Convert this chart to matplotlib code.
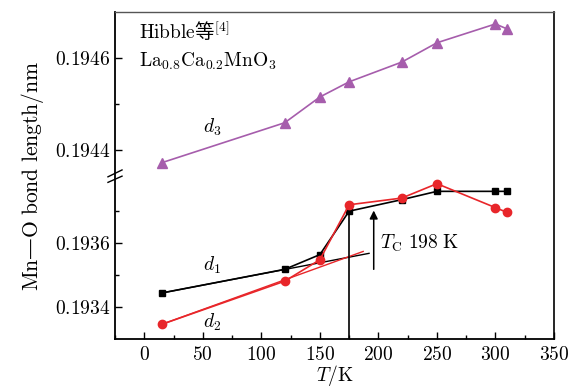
import numpy as np
import matplotlib
matplotlib.use("Agg")
import matplotlib.pyplot as plt
from matplotlib.ticker import FixedLocator, FixedFormatter, MultipleLocator

plt.rcParams['mathtext.fontset'] = 'cm'
plt.rcParams['font.family'] = ['DejaVu Serif']

# ---- data ----
T = [15, 120, 150, 175, 220, 250, 300, 310]
d1 = [0.193444, 0.193518, 0.193564, 0.193700, 0.193736, 0.193762, 0.193762, 0.193762]
d2 = [0.193346, 0.193481, 0.193548, 0.193720, 0.193741, 0.193786, 0.193711, 0.193696]
d3 = [0.194372, 0.194459, 0.194515, 0.194548, 0.194591, 0.194633, 0.194674, 0.194663]
fit1_x = [15, 192]
fit1_y = [0.193444, 0.193568]
fit2_x = [15, 187]
fit2_y = [0.193346, 0.193574]
Tc_line_x = 175
Tc_arrow_x = 196
Tc_arrow_y = [0.193518, 0.193702]
x_ticks = [0, 50, 100, 150, 200, 250, 300, 350]
y_major = [0.1934, 0.1936, 0.1944, 0.1946]
y_minor = [0.1935, 0.1937, 0.1945]
y_labels = ['0.1934', '0.1936', '0.1944', '0.1946']

# ---- broken-axis scale ----
lo0, lo1 = 0.1933, 0.19382
hi0, hi1 = 0.19435, 0.1947
s_lo = 64 / 0.0002
s_hi = 92 / 0.0002
xk = np.array([0.18, lo1, hi0, 0.21])
fa = (lo1 - lo0) * s_lo
fk = np.array([(0.18 - lo0) * s_lo, fa, fa + 0.01, fa + 0.01 + (0.21 - hi0) * s_hi])

def fwd(y):
    return np.interp(y, xk, fk)

def inv(f):
    return np.interp(f, fk, xk)

fig = plt.figure(figsize=(5.84, 3.88), dpi=100)
ax = fig.add_axes([115/584, 49/388, 439/584, 327/388])
ax.set_yscale('function', functions=(fwd, inv))
ax.set_xlim(-25, 350)
ax.set_ylim(lo0, hi1)

purple = '#A65DAC'
red = '#E8262A'

ax.plot(fit1_x, fit1_y, color='black', lw=1.0, zorder=2)
ax.plot(fit2_x, fit2_y, color=red, lw=1.0, zorder=2)
ax.plot(T, d1, color='black', lw=1.2, marker='s', ms=5, zorder=3)
ax.plot(T, d2, color=red, lw=1.2, marker='o', ms=6, zorder=3)
ax.plot(T, d3, color=purple, lw=1.2, marker='^', ms=7.5, zorder=3)

ax.plot([Tc_line_x, Tc_line_x], [lo0, d1[T.index(Tc_line_x)]], color='black', lw=1.2, zorder=2)
ax.annotate('', xy=(Tc_arrow_x, Tc_arrow_y[1]), xytext=(Tc_arrow_x, Tc_arrow_y[0]),
            arrowprops=dict(arrowstyle='-|>', color='black', lw=1.1, mutation_scale=12,
                            shrinkA=0, shrinkB=0))

fs = 14
ax.text(201, 0.19360, r'$T_\mathrm{C}\ \mathrm{198\ K}$', fontsize=fs, ha='left', va='center')
ax.text(58, 0.19353, r'$d_1$', fontsize=fs, ha='center', va='center')
ax.text(58, 0.193353, r'$d_2$', fontsize=fs, ha='center', va='center')
ax.text(58, 0.194448, r'$d_3$', fontsize=fs, ha='center', va='center')
ax.text(0.055, 0.939, r'$\mathrm{Hibble}$等$^{[4]}$', transform=ax.transAxes, fontsize=fs,
        ha='left', va='center', family=['Noto Sans CJK SC', 'DejaVu Serif'])
ax.text(0.055, 0.850, r'$\mathrm{La_{0.8}Ca_{0.2}MnO_3}$', transform=ax.transAxes, fontsize=fs,
        ha='left', va='center')

ax.xaxis.set_major_locator(FixedLocator(x_ticks))
ax.xaxis.set_minor_locator(MultipleLocator(25))
ax.set_xticklabels([r'$%d$' % v for v in x_ticks])
ax.yaxis.set_major_locator(FixedLocator(y_major))
ax.yaxis.set_major_formatter(FixedFormatter([r'$%s$' % s for s in y_labels]))
ax.yaxis.set_minor_locator(FixedLocator(y_minor))
ax.yaxis.set_minor_formatter(FixedFormatter([]))
ax.tick_params(axis='both', which='major', direction='in', length=5, width=1.0, labelsize=fs,
               top=False, right=False)
ax.tick_params(axis='both', which='minor', direction='in', length=3, width=1.0,
               top=False, right=False)
ax.tick_params(axis='x', pad=5)

ax.spines['left'].set_linewidth(1.3)
ax.spines['bottom'].set_linewidth(1.3)
ax.spines['top'].set_linewidth(1.0)
ax.spines['top'].set_color('#555555')
ax.spines['right'].set_linewidth(1.2)

ax.set_xlabel(r'$T/\mathrm{K}$', fontsize=fs, labelpad=-0.5)
ax.set_ylabel(r'$\mathrm{Mn}$—$\mathrm{O\ bond\ length/nm}$', fontsize=15.5, labelpad=6)

# break marks on the left spine
for y0, y1 in [(0.496, 0.517), (0.479, 0.498)]:
    ax.plot([-0.016, 0.016], [y0, y1], transform=ax.transAxes, color='black', lw=1.0,
            clip_on=False, zorder=5)

fig.savefig('out.png', dpi=100)
